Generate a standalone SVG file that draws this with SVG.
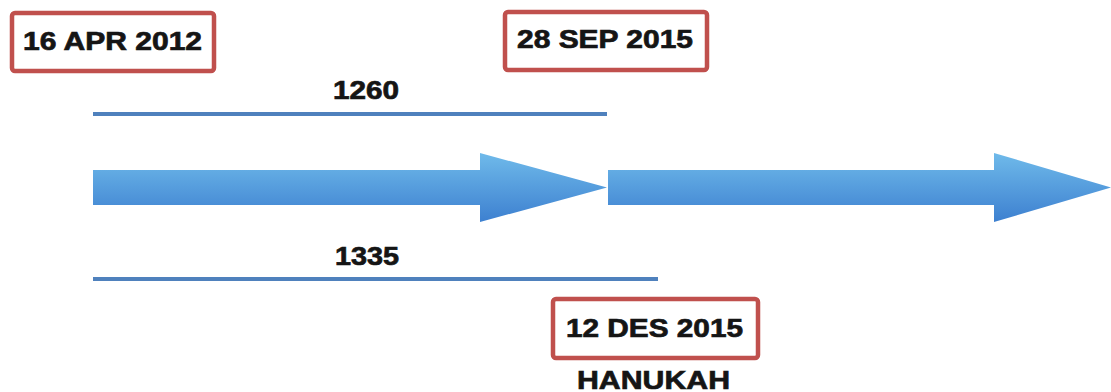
<svg xmlns="http://www.w3.org/2000/svg" width="1111" height="392" viewBox="0 0 1111 392">
<defs>
<linearGradient id="g" x1="0" y1="0" x2="0" y2="1">
<stop offset="0" stop-color="#6fbaea"/>
<stop offset="1" stop-color="#3d80d0"/>
</linearGradient>
<style>
.box{fill:#fff;stroke:#c0504d;stroke-width:4.5}
.t{font-family:"Liberation Sans",Arial,sans-serif;font-weight:bold;font-size:25.5px;fill:#151515;stroke:#151515;stroke-width:0.7}
.ln{stroke:#4f81bd;stroke-width:4}
</style>
</defs>
<rect width="1111" height="392" fill="#fff"/>
<g id="connectors">
<path d="M93,170 H480 V153 L607,187.5 L480,222 V205 H93 Z" fill="url(#g)"/>
<path d="M608,170 H994 V153 L1111,187.5 L994,222 V205 H608 Z" fill="url(#g)"/>
<line class="ln" x1="93" y1="114" x2="607" y2="114"/>
<line class="ln" x1="93" y1="279" x2="658" y2="279"/>
</g>
<g id="label-1260"><text class="t" x="333" y="99" textLength="66" lengthAdjust="spacingAndGlyphs">1260</text></g>
<g id="label-1335"><text class="t" x="335" y="265" textLength="64" lengthAdjust="spacingAndGlyphs">1335</text></g>
<g id="node-apr2012">
<rect class="box" x="12" y="13" width="202" height="58" rx="3"/>
<text class="t" x="23" y="50" textLength="179" lengthAdjust="spacingAndGlyphs">16 APR 2012</text>
</g>
<g id="node-sep2015">
<rect class="box" x="505" y="12" width="202" height="58" rx="3"/>
<text class="t" x="517" y="48" textLength="176" lengthAdjust="spacingAndGlyphs">28 SEP 2015</text>
</g>
<g id="node-des2015">
<rect class="box" x="553" y="299" width="205" height="59" rx="3"/>
<text class="t" x="566" y="337" textLength="177" lengthAdjust="spacingAndGlyphs">12 DES 2015</text>
<text class="t" x="577" y="389" textLength="153" lengthAdjust="spacingAndGlyphs">HANUKAH</text>
</g>
</svg>
